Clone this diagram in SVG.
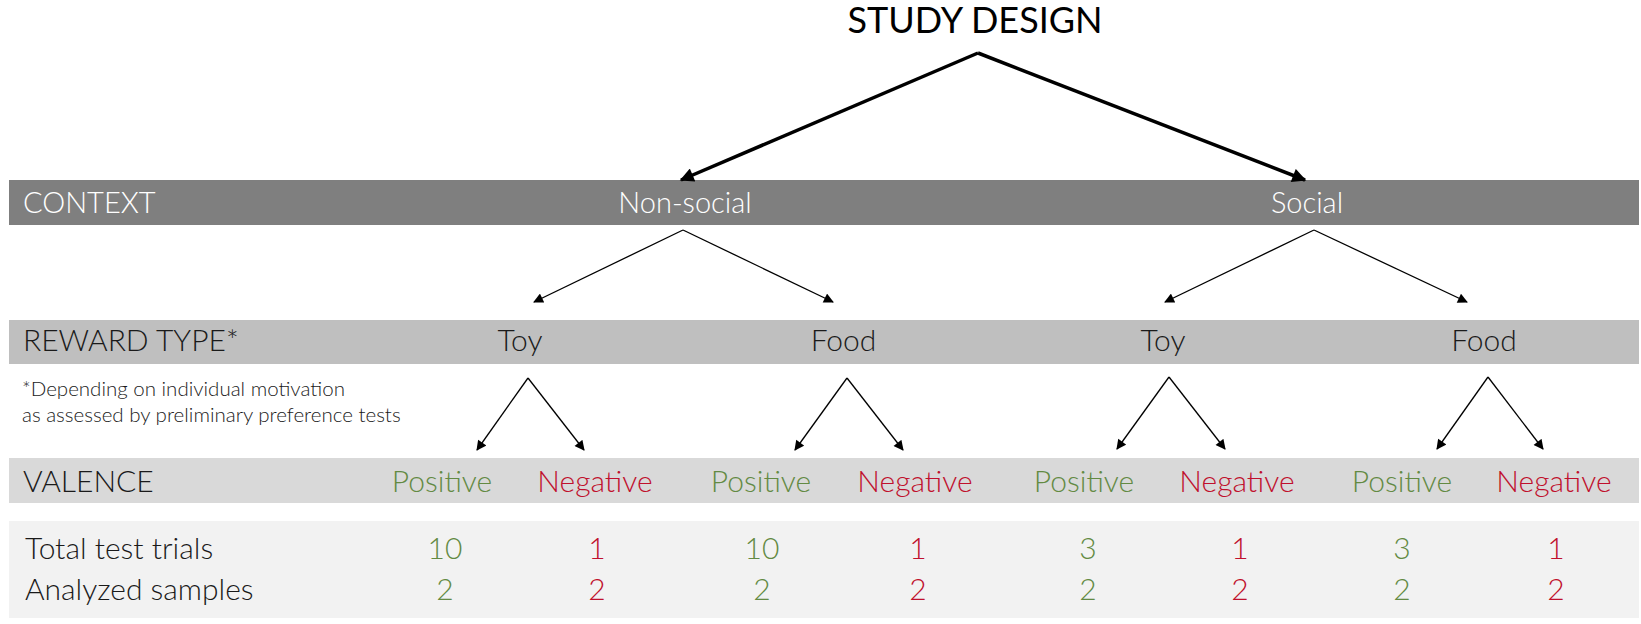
<svg xmlns="http://www.w3.org/2000/svg" width="1641" height="624" viewBox="0 0 1641 624">
<style>
text{font-family:Lato,"Open Sans","Liberation Sans",sans-serif;font-weight:300;}
.title{font-weight:400;font-size:36px;fill:#000;}
.hdr{font-size:29px;fill:#ffffff;}
.lbl{font-size:30px;fill:#1a1a1a;}
.ctr{text-anchor:middle;}
.pos{fill:#638a43;font-size:30px;text-anchor:middle;}
.neg{fill:#c0102d;font-size:30px;text-anchor:middle;}
.note{font-size:20.5px;fill:#1a1a1a;}
.thick{stroke:#000;stroke-width:3.5;fill:none;marker-end:url(#ahb);}
.thin{stroke:#000;stroke-width:1.3;fill:none;marker-end:url(#ah);}
</style>
<defs>
<marker id="ah" viewBox="0 0 10 10" refX="9" refY="5" markerWidth="11" markerHeight="10" markerUnits="userSpaceOnUse" orient="auto">
<path d="M0,0 L10,5 L0,10 z" fill="#000"/>
</marker>
<marker id="ahb" viewBox="0 0 10 10" refX="9" refY="5" markerWidth="4.5" markerHeight="4" orient="auto">
<path d="M0,0 L10,5 L0,10 z" fill="#000"/>
</marker>
</defs>
<rect width="1641" height="624" fill="#ffffff"/>
<g id="title"><text x="975" y="33" class="title ctr">STUDY DESIGN</text></g>
<g id="row-context">
<rect x="9" y="180" width="1630" height="45" fill="#7f7f7f"/>
<text x="23" y="213" class="hdr" font-size="27.5">CONTEXT</text>
<text x="685" y="213" class="hdr ctr">Non-social</text>
<text x="1307" y="213" class="hdr ctr">Social</text>
</g>
<g id="row-reward">
<rect x="9" y="320" width="1630" height="44" fill="#bfbfbf"/>
<text x="23" y="351" class="lbl">REWARD TYPE*</text>
<text x="520" y="351" class="lbl ctr">Toy</text>
<text x="843.5" y="351" class="lbl ctr">Food</text>
<text x="1163" y="351" class="lbl ctr">Toy</text>
<text x="1484" y="351" class="lbl ctr">Food</text>
</g>
<g id="footnote">
<text x="22" y="396" class="note">*Depending on individual motivation</text>
<text x="22" y="421.5" class="note">as assessed by preliminary preference tests</text>
</g>
<g id="row-valence">
<rect x="9" y="458" width="1630" height="45" fill="#d9d9d9"/>
<text x="23" y="492" class="lbl">VALENCE</text>
<text x="442" y="492" class="pos">Positive</text>
<text x="595" y="492" class="neg">Negative</text>
<text x="761" y="492" class="pos">Positive</text>
<text x="915" y="492" class="neg">Negative</text>
<text x="1084" y="492" class="pos">Positive</text>
<text x="1237" y="492" class="neg">Negative</text>
<text x="1402" y="492" class="pos">Positive</text>
<text x="1554" y="492" class="neg">Negative</text>
</g>
<g id="row-data">
<rect x="9" y="521" width="1630" height="97" fill="#f2f2f2"/>
<text x="25" y="559" class="lbl" font-size="30.5">Total test trials</text>
<text x="25" y="600" class="lbl" font-size="30.5">Analyzed samples</text>
<text x="445" y="559" class="pos">10</text>
<text x="597" y="559" class="neg">1</text>
<text x="762" y="559" class="pos">10</text>
<text x="918" y="559" class="neg">1</text>
<text x="1088" y="559" class="pos">3</text>
<text x="1240" y="559" class="neg">1</text>
<text x="1402" y="559" class="pos">3</text>
<text x="1556" y="559" class="neg">1</text>
<text x="445" y="600" class="pos">2</text>
<text x="597" y="600" class="neg">2</text>
<text x="762" y="600" class="pos">2</text>
<text x="918" y="600" class="neg">2</text>
<text x="1088" y="600" class="pos">2</text>
<text x="1240" y="600" class="neg">2</text>
<text x="1402" y="600" class="pos">2</text>
<text x="1556" y="600" class="neg">2</text>
</g>
<g id="connectors">
<path class="thick" d="M978,53 L681,180"/>
<path class="thick" d="M978,53 L1305,180"/>
<path class="thin" d="M683,230 L534,302"/>
<path class="thin" d="M683,230 L833,302"/>
<path class="thin" d="M1314,230 L1165,302"/>
<path class="thin" d="M1314,230 L1467,302"/>
<path class="thin" d="M528,378 L477,450"/>
<path class="thin" d="M528,378 L584,450"/>
<path class="thin" d="M847,378 L795,450"/>
<path class="thin" d="M847,378 L903,450"/>
<path class="thin" d="M1169,377 L1117,449"/>
<path class="thin" d="M1169,377 L1225,449"/>
<path class="thin" d="M1488,377 L1437,449"/>
<path class="thin" d="M1488,377 L1543,449"/>
</g>
</svg>
